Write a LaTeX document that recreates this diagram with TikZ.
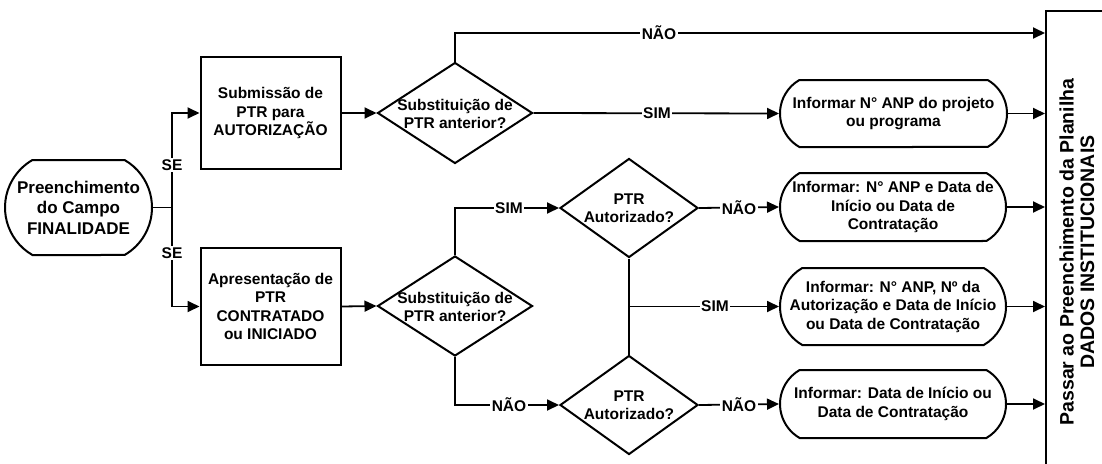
\documentclass[tikz,border=0pt]{standalone}
\usepackage{fontspec}
\setmainfont{Liberation Sans}
\usetikzlibrary{arrows.meta,shapes.geometric,shapes.misc}
\begin{document}
\begin{tikzpicture}[x=1pt,y=-1pt,
  every node/.style={font=\bfseries\fontsize{15.5}{18.5}\selectfont, align=center, inner sep=0pt},
  ln/.style={line width=1.8pt},
  arr/.style={ln,-{Triangle[length=12pt,width=11pt]}},
  box/.style={draw,line width=2pt,minimum width=140pt},
  pill/.style={draw,line width=2pt,rounded rectangle,rounded rectangle arc length=120},
  dia/.style={draw,line width=2pt,diamond},
  lbl/.style={fill=white,inner sep=1.5pt},
]
\useasboundingbox (0,0) rectangle (1102,463);
\clip (0,0) rectangle (1102,463);

% shapes
\node[pill,minimum width=147pt,minimum height=95pt] (L) at (78.5,207.5) {};
\node[font=\bfseries\fontsize{17}{20.5}\selectfont] (Lt) at (L.center) {Preenchimento\\do Campo\\FINALIDADE};

\node[box,minimum height=112pt] (b1) at (270.5,113) {};
\node (b1t) at (b1.center) {Submissão de\\PTR para\\AUTORIZAÇÃO};
\node[box,minimum height=117pt] (b2) at (270.5,306.5) {};
\node (b2t) at (b2.center) {Apresentação de\\PTR\\CONTRATADO\\ou INICIADO};

\node[dia,minimum width=155pt,minimum height=101pt] (d1) at (455,113) {};
\node (d1t) at (455,114) {Substituição de\\PTR anterior?};
\node[dia,minimum width=155pt,minimum height=100pt] (d2) at (455,306) {};
\node (d2t) at (455,307) {Substituição de\\PTR anterior?};
\node[dia,minimum width=138pt,minimum height=99pt] (d3) at (629,208) {};
\node (d3t) at (629,208) {PTR\\Autorizado?};
\node[dia,minimum width=138pt,minimum height=99pt] (d4) at (629,405) {};
\node (d4t) at (629,405) {PTR\\Autorizado?};

\node[pill,minimum width=227pt,minimum height=67pt] (n2) at (893.5,113.5) {};
\node (n2t) at (n2.center) {Informar N° ANP do projeto\\ou programa};
\node[pill,minimum width=226pt,minimum height=68pt] (n3) at (893,207) {};
\node (n3t) at (n3.center) {Informar: N° ANP e Data de\\Início ou Data de\\Contratação};
\node[pill,minimum width=226pt,minimum height=77pt] (n4) at (893,306.5) {};
\node (n4t) at (n4.center) {Informar: N° ANP, Nº da\\Autorização e Data de Início\\ou Data de Contratação};
\node[pill,minimum width=226pt,minimum height=68pt] (n5) at (893,404) {};
\node (n5t) at (n5.center) {Informar: Data de Início ou\\Data de Contratação};

\node[draw,line width=2pt,minimum width=90pt,minimum height=470pt,anchor=north west] (P) at (1045,10) {};
\node[rotate=90,font=\bfseries\fontsize{19.5}{20.5}\selectfont] (Pt) at (1077,252) {Passar ao Preenchimento da Planilha\\DADOS INSTITUCIONAIS};

% connectors
\coordinate (j) at (172,207.5);
\draw[ln] (L.east) -- (j);
\draw[arr] (j) |- (b1.west);
\draw[arr] (j) |- (b2.west);
\node[lbl] (se1) at (172,165) {SE};
\node[lbl] (se2) at (172,253) {SE};

\draw[arr] (b1.east) -- (d1.west);
\draw[arr] (b2.east) -- (d2.west);

\coordinate (top) at (455,33);
\draw[arr] (d1.north) -- (top) -- (top -| P.west);
\node[lbl] (nao1) at (659,33) {NÃO};
\draw[arr] (d1.east) -- (n2.west);
\node[lbl] (sim1) at (657,113) {SIM};

\draw[arr] (d2.north) |- (d3.west);
\node[lbl] (sim2) at (509,208) {SIM};
\draw[arr] (d2.south) |- (d4.west);
\node[lbl] (nao2) at (509,405) {NÃO};

\draw[arr] (d3.east) -- (n3.west);
\node[lbl] (nao3) at (739,208) {NÃO};
\draw[arr] (d4.east) -- (n5.west);
\node[lbl] (nao4) at (739,405) {NÃO};

\draw[ln] (d3.south) -- (d4.north);
\coordinate (mid) at (629,306.5);
\draw[arr] (mid) -- (n4.west);
\node[lbl] (sim3) at (715,306.5) {SIM};

\draw[arr] (n2.east) -- (n2.east -| P.west);
\draw[arr] (n3.east) -- (n3.east -| P.west);
\draw[arr] (n4.east) -- (n4.east -| P.west);
\draw[arr] (n5.east) -- (n5.east -| P.west);
\end{tikzpicture}
\end{document}
